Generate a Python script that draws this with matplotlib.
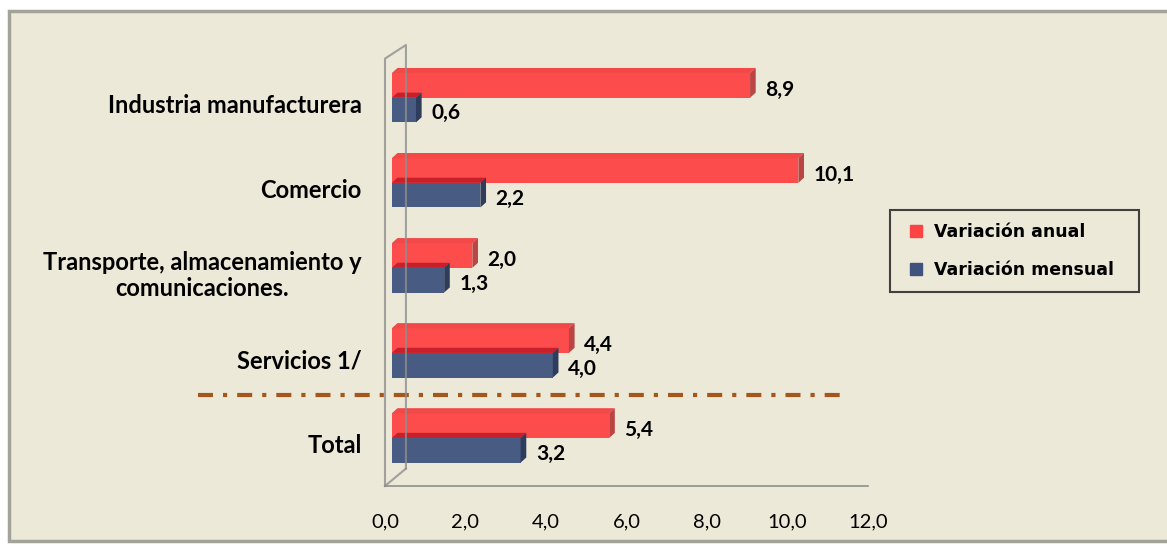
import numpy as np
import matplotlib.pyplot as plt
from matplotlib.patches import Rectangle, Polygon
from matplotlib.lines import Line2D

categorias = ["Industria manufacturera", "Comercio",
              "Transporte, almacenamiento y\ncomunicaciones.",
              "Servicios 1/", "Total"]
anual = [8.9, 10.1, 2.0, 4.4, 5.4]
mensual = [0.6, 2.2, 1.3, 4.0, 3.2]
ticks = [0, 2, 4, 6, 8, 10, 12]

bg = "#ECE9D8"
red, red_top, red_side = "#FD4343", "#F24848", "#B94545"
blue, blue_top, blue_side = "#3F537E", "#C8202A", "#2E3D5C"

fig = plt.figure(figsize=(11.67, 5.45), dpi=100, facecolor="white")
fig.patches.append(Rectangle((9 / 1167, 4 / 545), 1160 / 1167, 530 / 545,
                             transform=fig.transFigure, facecolor=bg,
                             edgecolor="#A3A39A", linewidth=2.5, zorder=-1))

ax = fig.add_axes([385 / 1167, 59 / 545, 483 / 1167, 441 / 545])
ax.set_facecolor("none")
ax.set_xlim(0, 12)
ax.set_ylim(-0.565, 4.62)
for s in ax.spines.values():
    s.set_visible(False)
ax.set_yticks([])
ax.set_xticks(ticks)
ax.set_xticklabels([f"{t:.1f}".replace(".", ",") for t in ticks],
                   fontsize=14.5, family="Lato")
ax.tick_params(axis="x", length=0, pad=20)

# wall / floor of 3d chart
dx, dy = 0.14, 0.06
x0 = 0.17
wx1 = 0.52
wall = dict(color="#8E8E8E", lw=1.5, alpha=0.8, zorder=5, clip_on=False)
ax.plot([0, 0, wx1, wx1], [-0.565, 4.46, 4.62, -0.36], **wall)
ax.plot([0, wx1], [-0.565, -0.36], **wall)
ax.plot([0, 12], [-0.565, -0.565], color="#8E8E8E", lw=1.2, zorder=1,
        clip_on=False)

h = 0.29
ypos = np.arange(len(categorias))[::-1]


def bar3d(v, y0, front, top, side, z):
    ax.add_patch(Rectangle((x0, y0), v, h, facecolor=front, edgecolor="none",
                           alpha=0.95, zorder=z))
    e = x0 + v
    ax.add_patch(Polygon([(x0, y0 + h), (e, y0 + h), (e + dx, y0 + h + dy),
                          (x0 + dx, y0 + h + dy)], facecolor=top,
                         edgecolor="none", zorder=z))
    ax.add_patch(Polygon([(e, y0), (e + dx, y0 + dy), (e + dx, y0 + h + dy),
                          (e, y0 + h)], facecolor=side, edgecolor="none",
                         zorder=z))


for y, a, m in zip(ypos, anual, mensual):
    bar3d(a, y, red, red_top, red_side, 2)
    bar3d(m, y - h, blue, blue_top, blue_side, 3)
    ax.text(x0 + a + 0.38, y + h / 2 - 0.05, f"{a:.1f}".replace(".", ","),
            fontsize=15, fontweight="bold", family="Lato", va="center")
    ax.text(x0 + m + 0.38, y - h / 2 - 0.04, f"{m:.1f}".replace(".", ","),
            fontsize=15, fontweight="bold", family="Lato", va="center")

for y, c in zip(ypos, categorias):
    ax.text(-0.048, y - 0.09, c, transform=ax.get_yaxis_transform(),
            ha="right", va="center", multialignment="center",
            fontsize=17, fontweight="bold", family="Lato", linespacing=1.15)

# separator before Total
ax.plot([-187 / 483, 455 / 483], [0.5, 0.5],
        transform=ax.get_yaxis_transform(), color="#A4561C", lw=3,
        dashes=(3.6, 2.4, 1.0, 2.4), clip_on=False, zorder=4)

handles = [Line2D([], [], marker="s", ls="none", color=red, markersize=9),
           Line2D([], [], marker="s", ls="none", color=blue, markersize=9)]
leg = fig.legend(handles, ["Variación anual", "Variación mensual"],
                 loc="upper left",
                 bbox_to_anchor=(890 / 1167, 257 / 545, 249 / 1167, 78 / 545),
                 bbox_transform=fig.transFigure, borderaxespad=0,
                 mode="expand", fancybox=False, edgecolor="#404040",
                 facecolor=bg, framealpha=1, handlelength=1.5,
                 handletextpad=0.3, labelspacing=1.15, borderpad=0.75,
                 prop=dict(family="DejaVu Sans", weight="bold", size=12.5))
leg.get_frame().set_linewidth(1.5)

fig.savefig("out.png", dpi=100, facecolor="white")
